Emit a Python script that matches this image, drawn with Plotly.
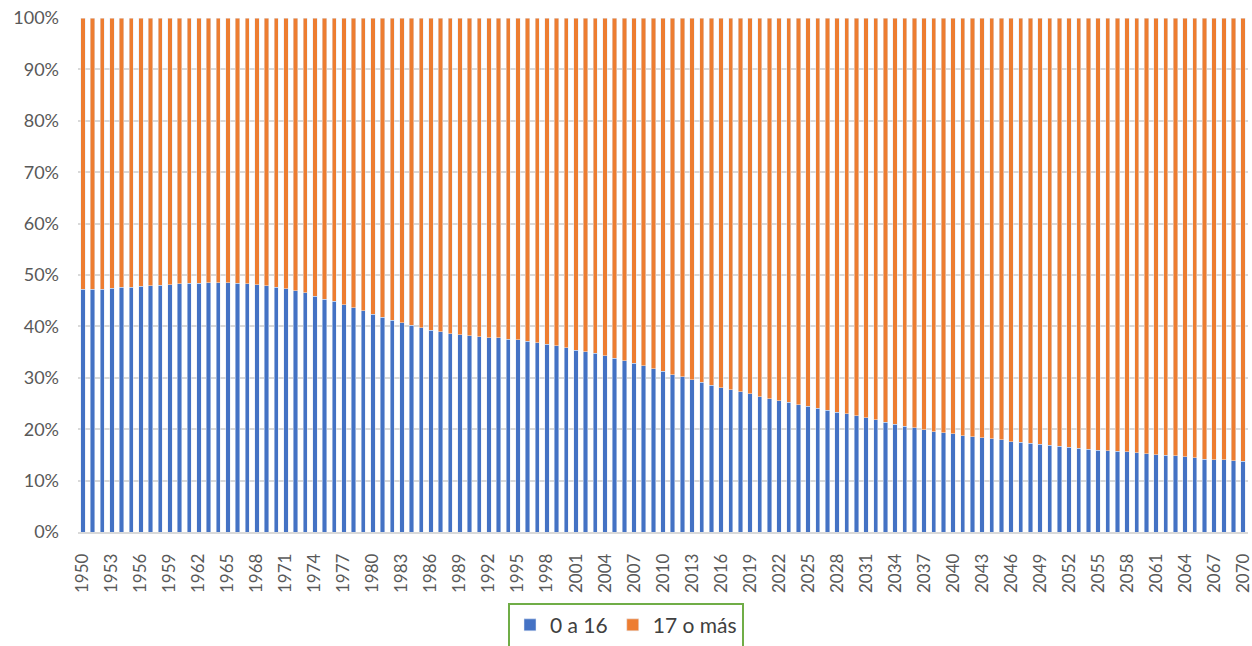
import plotly.graph_objects as go

years = list(range(1950, 2071))

# share of population aged 0-16 (%)
share_0_16 = [
    47.2, 47.2, 47.2, 47.4, 47.6, 47.6, 47.8, 47.9, 48.0, 48.1,
    48.3, 48.4, 48.4, 48.5, 48.5, 48.5, 48.4, 48.3, 48.1, 47.9,
    47.6, 47.3, 46.9, 46.5, 45.9, 45.3, 44.9, 44.2, 43.6, 43.0,
    42.4, 41.8, 41.2, 40.7, 40.2, 39.7, 39.3, 39.0, 38.6, 38.4,
    38.2, 38.0, 37.8, 37.8, 37.5, 37.4, 37.1, 36.8, 36.5, 36.2,
    35.8, 35.4, 35.1, 34.8, 34.3, 33.8, 33.3, 32.8, 32.3, 31.8,
    31.3, 30.6, 30.2, 29.6, 29.1, 28.6, 28.1, 27.7, 27.3, 26.9,
    26.3, 25.9, 25.5, 25.2, 24.8, 24.5, 24.1, 23.7, 23.3, 23.0,
    22.6, 22.2, 21.8, 21.4, 21.0, 20.6, 20.3, 19.9, 19.5, 19.3,
    19.1, 18.7, 18.5, 18.3, 18.1, 17.9, 17.6, 17.5, 17.3, 17.1,
    16.9, 16.7, 16.5, 16.3, 16.1, 15.9, 15.8, 15.7, 15.6, 15.4,
    15.2, 15.0, 14.9, 14.8, 14.6, 14.4, 14.2, 14.1, 14.1, 13.9,
    13.8,
]
# the rest of the population (17 and older)
share_17_plus = [round(100 - v, 1) for v in share_0_16]

FONT = "Lato, 'Liberation Sans', sans-serif"

fig = go.Figure()
fig.add_trace(go.Bar(x=years, y=share_0_16, name="0 a 16", marker_color="#4472C4"))
fig.add_trace(go.Bar(x=years, y=share_17_plus, name="17 o más", marker_color="#ED7D31"))

fig.update_layout(
    barmode="stack",
    bargap=0.55,
    width=1252,
    height=646,
    margin=dict(l=78, r=4, t=18, b=114),
    plot_bgcolor="white",
    paper_bgcolor="white",
    font=dict(family=FONT, color="#595959", size=18),
    legend=dict(
        orientation="h",
        traceorder="normal",
        xref="container",
        x=0.5,
        xanchor="center",
        yref="container",
        y=0.067,
        yanchor="top",
        bordercolor="#70AD47",
        borderwidth=2,
        font=dict(size=21, color="#404040"),
        itemwidth=30,
    ),
    xaxis=dict(
        range=[1949.5, 2070.5],
        tickmode="linear",
        tick0=1950,
        dtick=3,
        tickangle=-90,
        tickfont=dict(size=17),
        showgrid=False,
        showline=True,
        linecolor="#D9D9D9",
        linewidth=1.5,
        ticks="",
        ticklabelstandoff=13,
        ticklabeloverflow="allow",
        automargin=False,
    ),
    yaxis=dict(
        range=[0, 100],
        dtick=10,
        ticksuffix="%",
        showgrid=True,
        gridcolor="#D9D9D9",
        gridwidth=1.5,
        zeroline=False,
        ticks="",
        ticklabelstandoff=18,
        automargin=False,
    ),
)

# drop the browser's default 8px body margin so the figure fills the window
fig.write_html(
    "out.html",
    config={"displayModeBar": False},
    post_script="document.body.style.margin='0px';",
)
